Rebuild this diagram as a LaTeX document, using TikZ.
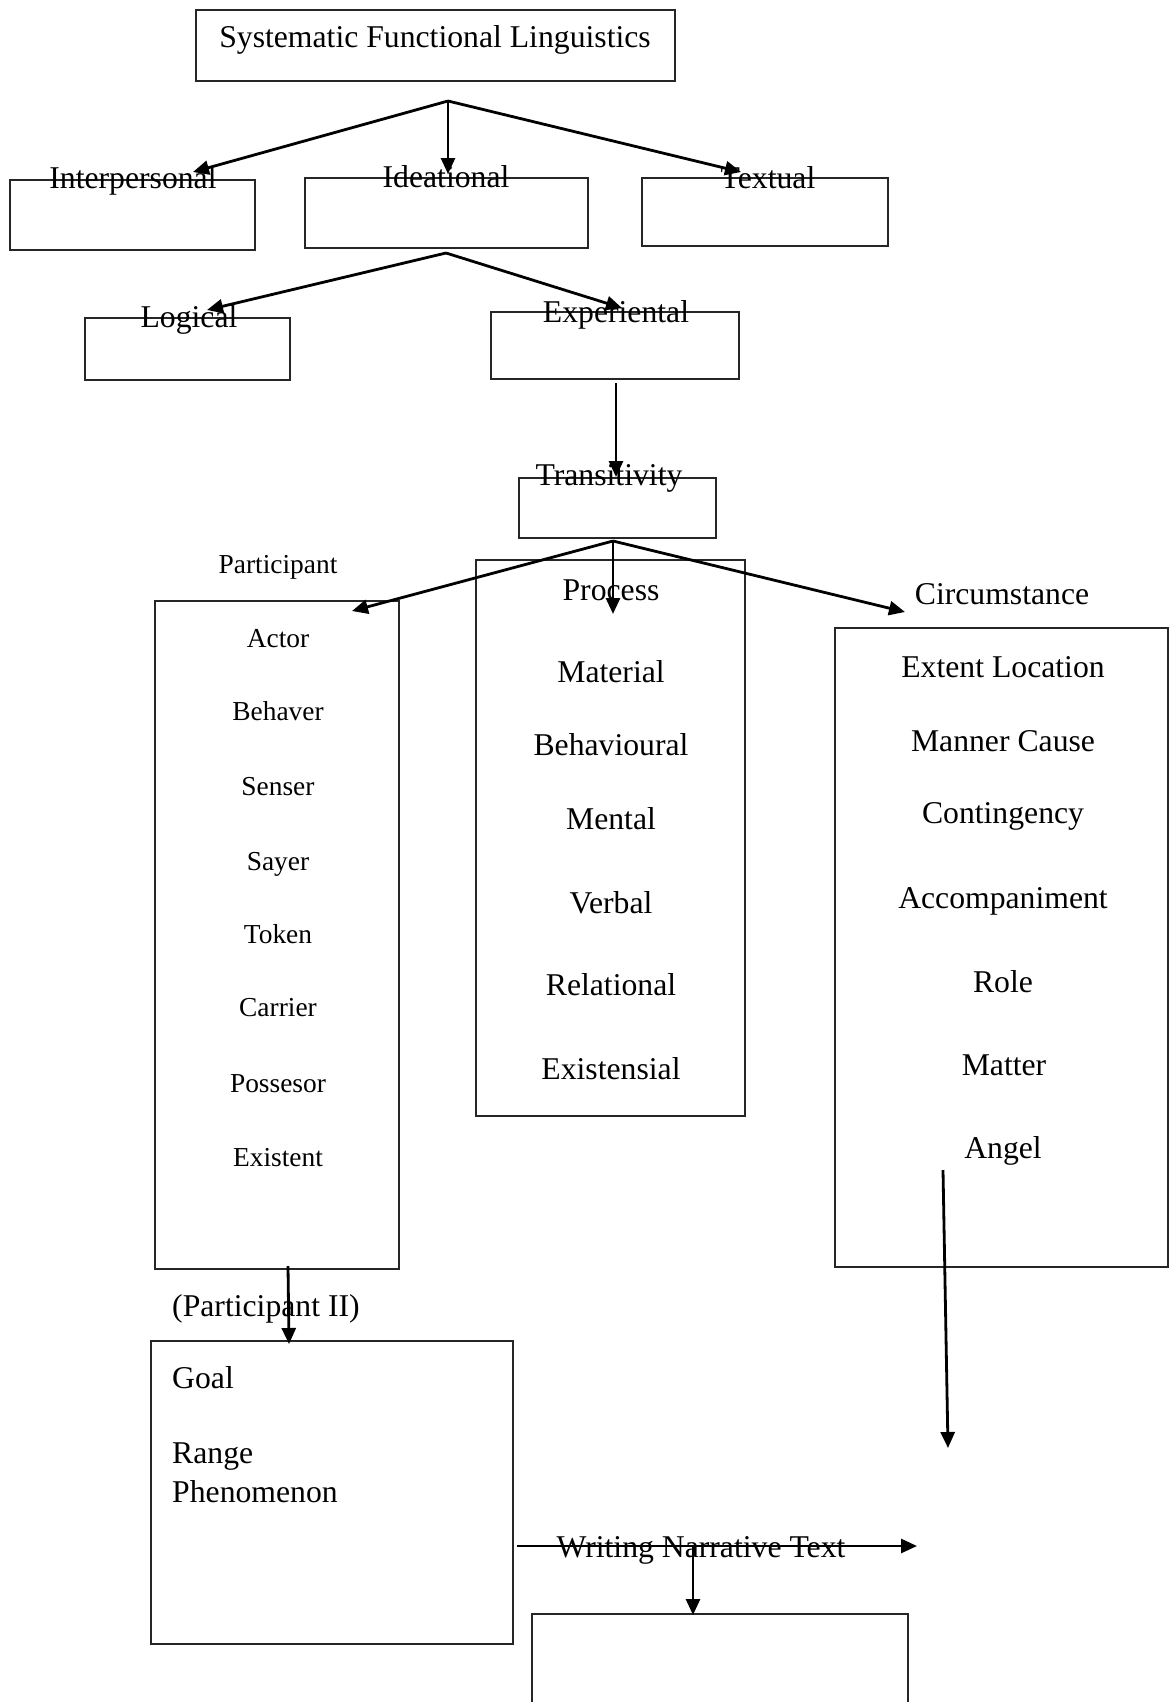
\documentclass[tikz,border=0pt]{standalone}
\usepackage{fontspec}
\setmainfont{Liberation Serif}
\usetikzlibrary{arrows.meta}
\tikzset{
  box/.style={draw=black!85, line width=1.8pt, inner sep=0pt},
  lbl/.style={inner sep=0pt, anchor=base, font=\fontsize{31.7}{38}\selectfont},
  lblw/.style={inner sep=0pt, anchor=base west, font=\fontsize{31.7}{38}\selectfont},
  sml/.style={inner sep=0pt, anchor=base, font=\fontsize{27.4}{33}\selectfont},
  arr/.style={line width=2.8pt, -{Triangle[length=16pt,width=14pt]}},
}
\begin{document}
\begin{tikzpicture}[x=1pt,y=-1pt]
\clip (0,0) rectangle (1175,1702);
\fill[white] (0,0) rectangle (1175,1702);
% boxes
\node[box, minimum width=479pt, minimum height=71pt] (sfl) at (435.5,45.5) {};
\node[box, minimum width=245pt, minimum height=70pt] (inter) at (132.5,215) {};
\node[box, minimum width=283pt, minimum height=70pt] (idea) at (446.5,213) {};
\node[box, minimum width=246pt, minimum height=68pt] (textual) at (765,212) {};
\node[box, minimum width=205pt, minimum height=62pt] (logic) at (187.5,349) {};
\node[box, minimum width=248pt, minimum height=67pt] (exper) at (615,345.5) {};
\node[box, minimum width=197pt, minimum height=60pt] (trans) at (617.5,508) {};
\node[box, minimum width=244pt, minimum height=668pt] (part) at (277,935) {};
\node[box, minimum width=269pt, minimum height=556pt] (proc) at (610.5,838) {};
\node[box, minimum width=333pt, minimum height=639pt] (circ) at (1001.5,947.5) {};
\node[box, minimum width=362pt, minimum height=303pt] (goal) at (332,1492.5) {};
\node[box, minimum width=376pt, minimum height=126pt] (final) at (720,1677) {};
% texts
\node[lbl] (tsfl) at (435,48) {Systematic Functional Linguistics};
\node[lbl] (tinter) at (133,188) {Interpersonal};
\node[lbl] (tidea) at (446,187) {Ideational};
\node[lbl] (ttext) at (768,188) {Textual};
\node[lbl] (tlogic) at (189,327) {Logical};
\node[lbl] (texper) at (616,322) {Experiental};
\node[lbl] (ttrans) at (609,485) {Transitivity};
\node[sml] (tpart) at (278,573) {Participant};
\node[lbl] (tproc) at (611,600) {Process};
\node[lbl] (tcirc) at (1002,604) {Circumstance};
% participant list
\node[sml] (p1) at (278,647) {Actor};
\node[sml] (p2) at (278,720) {Behaver};
\node[sml] (p3) at (278,795) {Senser};
\node[sml] (p4) at (278,870) {Sayer};
\node[sml] (p5) at (278,943) {Token};
\node[sml] (p6) at (278,1016) {Carrier};
\node[sml] (p7) at (278,1092) {Possesor};
\node[sml] (p8) at (278,1166) {Existent};
% process list
\node[lbl] (r1) at (611,682) {Material};
\node[lbl] (r2) at (611,755.5) {Behavioural};
\node[lbl] (r3) at (611,829) {Mental};
\node[lbl] (r4) at (611,913.5) {Verbal};
\node[lbl] (r5) at (611,995) {Relational};
\node[lbl] (r6) at (611,1079) {Existensial};
% circumstance list
\node[lbl] (c1) at (1003,677) {Extent Location};
\node[lbl] (c2) at (1003,751) {Manner Cause};
\node[lbl] (c3) at (1003,823) {Contingency};
\node[lbl] (c4) at (1003,908) {Accompaniment};
\node[lbl] (c5) at (1003,992) {Role};
\node[lbl] (c6) at (1004,1075) {Matter};
\node[lbl] (c7) at (1003,1158) {Angel};
% participant II
\node[lblw] (tpart2) at (172,1316) {(Participant II)};
\node[lblw] (g1) at (172,1388) {Goal};
\node[lblw] (g2) at (172,1463) {Range};
\node[lblw] (g3) at (172,1502) {Phenomenon};
\node[lbl] (twrite) at (701,1557) {Writing Narrative Text};
% connector points
\coordinate (a1) at (448,101);
\coordinate (a1l) at (193,172);
\coordinate (a1m) at (448,174);
\coordinate (a1r) at (741,172);
\coordinate (a2) at (446,253);
\coordinate (a2l) at (207,310);
\coordinate (a2r) at (622,308);
\coordinate (e1) at (616,383);
\coordinate (e2) at (616,477);
\coordinate (a3) at (613,541);
\coordinate (a3l) at (352,611);
\coordinate (a3m) at (613,614);
\coordinate (a3r) at (905,612);
\coordinate (pb) at (288,1266);
\coordinate (pg) at (289,1344);
\coordinate (cb1) at (943,1170);
\coordinate (cb2) at (948,1448);
\coordinate (w1) at (517,1546);
\coordinate (w2) at (917,1546);
\coordinate (d1) at (693,1546);
\coordinate (d2) at (693,1615);
% arrows
\draw[arr] (a1) -- (a1l);
\draw[arr] (a1) -- (a1m);
\draw[arr] (a1) -- (a1r);
\draw[arr] (a2) -- (a2l);
\draw[arr] (a2) -- (a2r);
\draw[arr] (e1) -- (e2);
\draw[arr] (a3) -- (a3l);
\draw[arr] (a3) -- (a3m);
\draw[arr] (a3) -- (a3r);
\draw[arr] (pb) -- (pg);
\draw[arr] (cb1) -- (cb2);
\draw[arr] (w1) -- (w2);
\draw[arr] (d1) -- (d2);
\end{tikzpicture}
\end{document}
